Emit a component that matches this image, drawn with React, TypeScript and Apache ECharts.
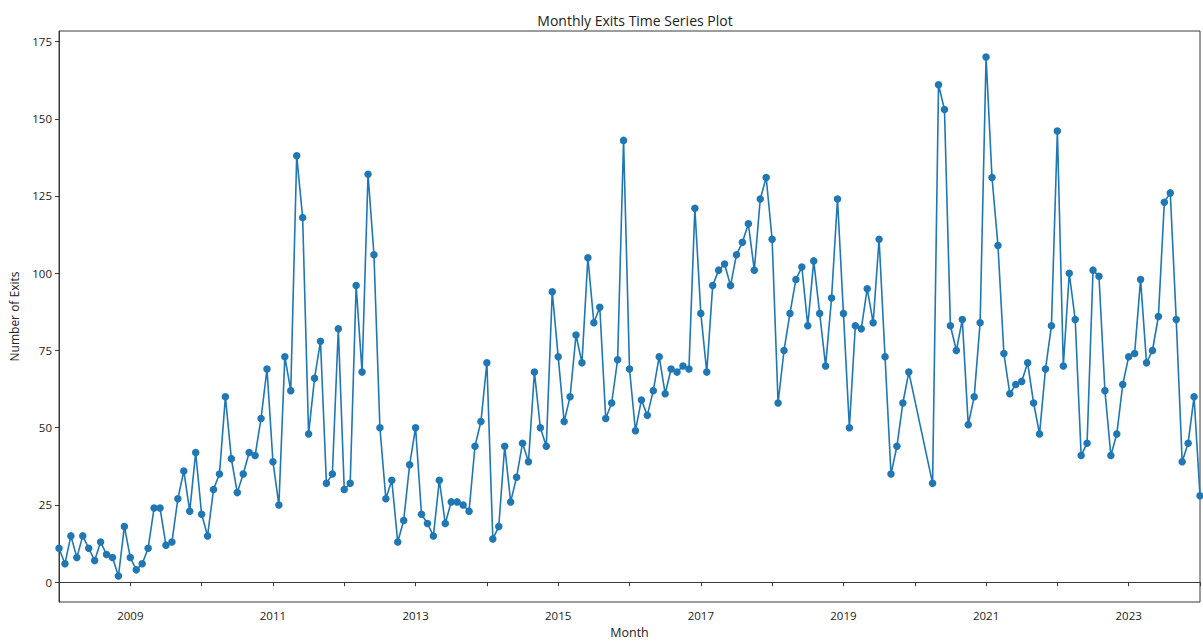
import React, { useEffect, useRef } from "react";
import * as echarts from "echarts";

const chartTitle = "Monthly Exits Time Series Plot";
const xAxisName = "Month";
const yAxisName = "Number of Exits";

// Month labels: the series runs Jan 2008 - Dec 2019, then (after a gap) Apr 2020 - Jan 2024
const segment1Start = "2008-01";
const segment2Start = "2020-04";

const exits2008 = [11, 6, 15, 8, 15, 11, 7, 13, 9, 8, 2, 18];
const exits2009 = [8, 4, 6, 11, 24, 24, 12, 13, 27, 36, 23, 42];
const exits2010 = [22, 15, 30, 35, 60, 40, 29, 35, 42, 41, 53, 69];
const exits2011 = [39, 25, 73, 62, 138, 118, 48, 66, 78, 32, 35, 82];
const exits2012 = [30, 32, 96, 68, 132, 106, 50, 27, 33, 13, 20, 38];
const exits2013 = [50, 22, 19, 15, 33, 19, 26, 26, 25, 23, 44, 52];
const exits2014 = [71, 14, 18, 44, 26, 34, 45, 39, 68, 50, 44, 94];
const exits2015 = [73, 52, 60, 80, 71, 105, 84, 89, 53, 58, 72, 143];
const exits2016 = [69, 49, 59, 54, 62, 73, 61, 69, 68, 70, 69, 121];
const exits2017 = [87, 68, 96, 101, 103, 96, 106, 110, 116, 101, 124, 131];
const exits2018 = [111, 58, 75, 87, 98, 102, 83, 104, 87, 70, 92, 124];
const exits2019 = [87, 50, 83, 82, 95, 84, 111, 73, 35, 44, 58, 68];
const exits2020AprDec = [32, 161, 153, 83, 75, 85, 51, 60, 84];
const exits2021 = [170, 131, 109, 74, 61, 64, 65, 71, 58, 48, 69, 83];
const exits2022 = [146, 70, 100, 85, 41, 45, 101, 99, 62, 41, 48, 64];
const exits2023 = [73, 74, 98, 71, 75, 86, 123, 126, 85, 39, 45, 60];
const exits2024 = [28];

const yTickValues = [0, 25, 50, 75, 100, 125, 150, 175];
const xLabelYears = [2009, 2011, 2013, 2015, 2017, 2019, 2021, 2023];

const segment1Values = [
  ...exits2008, ...exits2009, ...exits2010, ...exits2011, ...exits2012, ...exits2013,
  ...exits2014, ...exits2015, ...exits2016, ...exits2017, ...exits2018, ...exits2019,
];
const segment2Values = [...exits2020AprDec, ...exits2021, ...exits2022, ...exits2023, ...exits2024];

function monthLabels(start: string, count: number): string[] {
  const [y0, m0] = start.split("-").map(Number);
  const out: string[] = [];
  for (let i = 0; i < count; i++) {
    const idx = (m0 - 1) + i;
    const y = y0 + Math.floor(idx / 12);
    const m = (idx % 12) + 1;
    out.push(`${y}-${String(m).padStart(2, "0")}`);
  }
  return out;
}

const months = [
  ...monthLabels(segment1Start, segment1Values.length),
  ...monthLabels(segment2Start, segment2Values.length),
];
const exits = [...segment1Values, ...segment2Values];

function toYearFraction(label: string): number {
  const [y, m] = label.split("-").map(Number);
  return y + (m - 1) / 12;
}

export default function App() {
  const ref = useRef<HTMLDivElement>(null);

  useEffect(() => {
    if (!ref.current) return;
    const chart = echarts.init(ref.current, undefined, { renderer: "svg" });
    const font = "'Open Sans', 'Noto Sans', sans-serif";
    const textColor = "#222";
    const spine = "#3a3a3a";

    const data = months.map((mo, i) => [toYearFraction(mo), exits[i]]);
    const minX = toYearFraction(months[0]);
    const maxX = toYearFraction(months[months.length - 1]);
    const span = Math.max(...exits) - Math.min(...exits);
    const yMin = Math.min(...exits) - span * 0.05;
    const yMax = Math.max(...exits) + span * 0.05;

    chart.setOption({
      animation: false,
      backgroundColor: "#ffffff",
      title: {
        text: chartTitle,
        left: 630,
        top: 8,
        textAlign: "center",
        textStyle: { fontFamily: font, fontSize: 14, fontWeight: "normal", color: textColor },
      },
      grid: {
        left: 59,
        right: 3,
        top: 31,
        bottom: 40,
        show: true,
        borderColor: spine,
        borderWidth: 1,
        backgroundColor: "transparent",
      },
      xAxis: {
        type: "value",
        min: minX,
        max: maxX,
        interval: 1,
        name: xAxisName,
        nameLocation: "middle",
        nameGap: 24,
        nameTextStyle: { fontFamily: font, fontSize: 12.5, color: textColor },
        axisLine: { show: true, lineStyle: { color: spine, width: 1 } },
        axisTick: { show: true, length: 4, lineStyle: { color: spine } },
        axisLabel: {
          fontFamily: font,
          fontSize: 11.5,
          color: textColor,
          margin: 7,
          formatter: (v: number) => (xLabelYears.includes(Math.round(v)) ? String(Math.round(v)) : ""),
        },
        splitLine: { show: false },
      },
      yAxis: {
        type: "value",
        min: yMin,
        max: yMax,
        minInterval: yTickValues[1] - yTickValues[0],
        maxInterval: yTickValues[1] - yTickValues[0],
        name: yAxisName,
        nameLocation: "middle",
        nameGap: 39,
        nameTextStyle: { fontFamily: font, fontSize: 12, color: textColor },
        axisLine: { show: true, lineStyle: { color: spine, width: 1 } },
        axisTick: { show: true, length: 4, lineStyle: { color: spine } },
        axisLabel: {
          fontFamily: font,
          fontSize: 11.5,
          color: textColor,
          margin: 7,
          showMinLabel: false,
          showMaxLabel: false,
          formatter: (v: number) => (yTickValues.includes(Math.round(v * 1000) / 1000) ? String(v) : ""),
        },
        splitLine: { show: false },
      },
      series: [
        {
          type: "line",
          data,
          symbol: "circle",
          symbolSize: 7.5,
          showAllSymbol: true,
          clip: true,
          lineStyle: { color: "#1f77b4", width: 1.6 },
          itemStyle: { color: "#1f77b4" },
        },
      ],
    });
    return () => chart.dispose();
  }, []);

  return (
    <div
      ref={ref}
      style={{ position: "fixed", left: 0, top: 0, width: 1203, height: 644, background: "#fff" }}
    />
  );
}
